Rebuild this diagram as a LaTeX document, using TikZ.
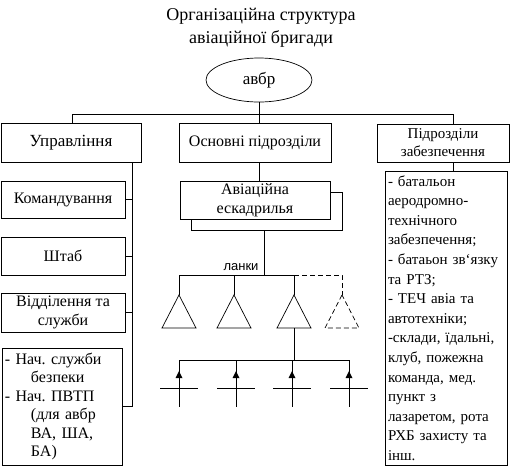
\documentclass[tikz,border=0pt]{standalone}
\usepackage{fontspec}
\setmainfont{Liberation Serif}
\newfontfamily\lankifont{Liberation Sans}
\usetikzlibrary{shapes.geometric}
\frenchspacing

\begin{document}
\begin{tikzpicture}[x=1pt,y=-1pt,color=black,line width=0.7pt,
	box/.style={draw,fill=white,inner sep=0pt,align=center,font=\fontsize{16}{19}\selectfont},
	lst/.style={draw,fill=white,inner xsep=3pt,inner ysep=0pt,align=left},
	dsh/.style={dash pattern=on 5pt off 3pt}]
		\useasboundingbox (0,0) rectangle (520,467);
		\node[align=center,font=\fontsize{18}{23}\selectfont] (title) at (261,28) {Організаційна структура\\авіаційної бригади};
		\node[draw,ellipse,minimum width=106,minimum height=44,font=\fontsize{17}{17}\selectfont] (abr) at (259,80) {авбр};
		\node[box,minimum width=140,minimum height=39,font=\fontsize{17}{19}\selectfont] (upr) at (71,142.5) {Управління};
		\node[box,minimum width=152,minimum height=39] (osn) at (255,142.5) {Основні підрозділи};
		\node[box,minimum width=132,minimum height=38,font=\fontsize{15}{18}\selectfont] (pidr) at (443,143) {Підрозділи\\забезпечення};
		\node[box,minimum width=124,minimum height=37] (kom) at (63,199.5) {Командування};
		\node[box,minimum width=124,minimum height=38] (shtab) at (63,256) {Штаб};
		\node[box,minimum width=124,minimum height=39] (vid) at (63,312.5) {Відділення та\\служби};
		\node[lst,minimum width=120,minimum height=117,text width=114,font=\fontsize{16}{18.5}\selectfont] (nach) at (62,406.5)
			{- Нач. служби\\\hspace*{26pt}безпеки\\- Нач. ПВТП\\\hspace*{26pt}(для авбр\\\hspace*{26pt}ВА, ША,\\\hspace*{26pt}БА)};
		\node[box,minimum width=151,minimum height=38] (eskb) at (266.5,211) {};
		\node[box,minimum width=150,minimum height=38] (esk) at (255,200) {Авіаційна\\ескадрилья};
		\node[lst,minimum width=122,minimum height=294,text width=116,font=\fontsize{15}{19.6}\selectfont] (zab) at (446,318)
			{- батальон\\аеродромно-\\технічного\\забезпечення;\\- батаьон зв`язку\\та РТЗ;\\- ТЕЧ авіа та\\автотехніки;\\-склади, їдальні,\\клуб, пожежна\\команда, мед.\\пункт з\\лазаретом, рота\\РХБ захисту та\\інш.};
		\node[font=\lankifont\fontsize{13}{13}\selectfont] (lanky) at (241,267) {ланки};
		\coordinate (bl) at (72,114);
		\coordinate (br) at (453,114);
		\coordinate (sp) at (132,162);
		\coordinate (lb) at (264,275);
		\coordinate (t1) at (179,295);
		\coordinate (t2) at (234,295);
		\coordinate (t3) at (294,295);
		\coordinate (t4) at (342,295);
		\coordinate (t3b) at (294,328);
		\coordinate (p1) at (179,360);
		\coordinate (p2) at (236,360);
		\coordinate (p3) at (292,360);
		\coordinate (p4) at (349,360);
		\draw (upr.north -| bl)--(bl)--(br)--(pidr.north -| br);
		\draw (abr.south)--(osn.north -| abr.south);
		\draw (pidr.south -| br)--(zab.north -| br);
		\draw (upr.south -| sp)--(nach.east -| sp)--(nach.east);
		\draw (kom.east)--(kom.east -| sp);
		\draw (shtab.east)--(shtab.east -| sp);
		\draw (vid.east)--(vid.east -| sp);
		\draw (osn.south -| abr.south)--(esk.north -| abr.south);
		\draw (eskb.south -| lb)--(lb);
		\draw (t1)--(t1 |- lb)--(t3 |- lb)--(t3);
		\draw (t2 |- lb)--(t2);
		\draw[dsh] (t3 |- lb)--(t4 |- lb)--(t4);
		\draw (t1)--++(-17,33)--++(34,0)--cycle;
		\draw (t2)--++(-17,33)--++(34,0)--cycle;
		\draw (t3)--++(-17,33)--++(34,0)--cycle;
		\draw[dsh] (t4)--++(-17,33)--++(34,0)--cycle;
		\draw (t3b)--(t3b |- p1);
		\draw (p1)--(p4);
		\draw (p1)--++(0,47);
		\draw (p2)--++(0,47);
		\draw (p3)--++(0,47);
		\draw (p4)--++(0,47);
		\fill (p1) ++(0,11)--++(-3.5,7)--++(7,0)--cycle;
		\fill (p2) ++(0,11)--++(-3.5,7)--++(7,0)--cycle;
		\fill (p3) ++(0,11)--++(-3.5,7)--++(7,0)--cycle;
		\fill (p4) ++(0,11)--++(-3.5,7)--++(7,0)--cycle;
		\draw (p1) ++(-19,28)--++(38,0);
		\draw (p2) ++(-19,28)--++(38,0);
		\draw (p3) ++(-19,28)--++(38,0);
		\draw (p4) ++(-19,28)--++(38,0);
\end{tikzpicture}
\end{document}
